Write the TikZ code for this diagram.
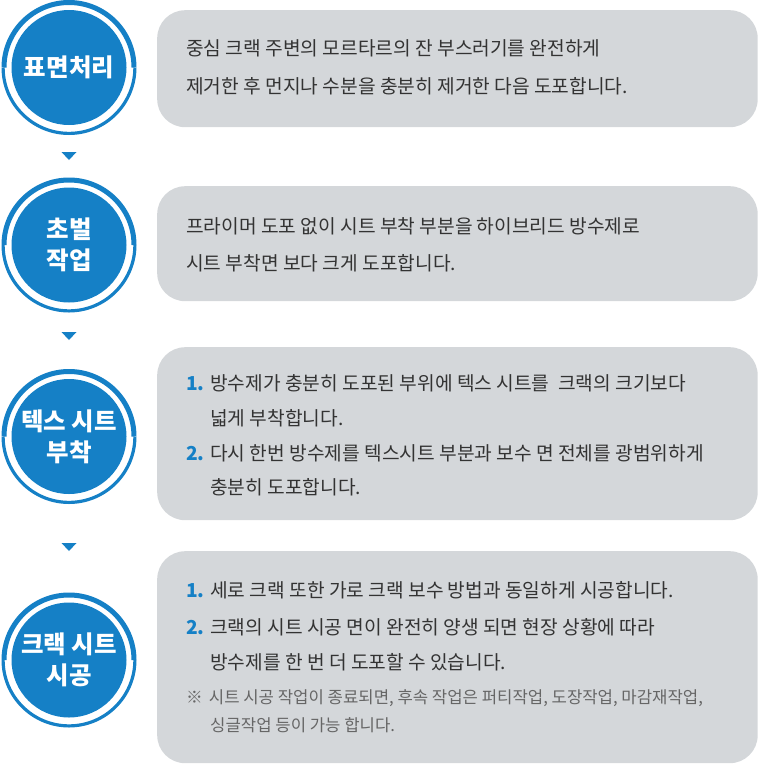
\documentclass[tikz,border=0pt]{standalone}
\usepackage{fontspec}
\setmainfont{Noto Sans CJK KR}
\definecolor{cblue}{HTML}{1580C6}
\definecolor{cgray}{HTML}{D4D7DA}
\definecolor{ctext}{HTML}{333333}
\definecolor{cnote}{HTML}{666666}
\tikzset{
  stepcirc/.style={circle, fill=cblue, minimum size=115pt, inner sep=0pt, text=white, align=center,
    font=\fontsize{24.5}{31}\selectfont\bfseries},
  ringtop/.style={draw=cblue, line width=5pt},
  ringbot/.style={draw=cblue, line width=3.2pt},
  infobox/.style={rectangle, rounded corners=28pt, fill=cgray, anchor=north west, minimum width=600.5pt, inner sep=0pt},
  body/.style={anchor=base west, inner sep=0pt, text=ctext, font=\fontsize{19.2}{22}\selectfont},
  note/.style={anchor=base west, inner sep=0pt, text=cnote, font=\fontsize{16.7}{19}\selectfont},
  num/.style={anchor=base west, inner sep=0pt, text=cblue, font=\fontsize{19.2}{22}\selectfont\bfseries},
  marker/.style={fill=cblue}
}
\begin{document}
\begin{tikzpicture}[x=1pt,y=-1pt]
\useasboundingbox (0,0) rectangle (758,764);
% circles
\foreach \n/\cy/\lbl in {c1/67.5/{표면처리}, c2/245/{초벌\\작업}, c3/436.5/{텍스 시트\\부착}, c4/660/{크랙 시트\\시공}}{
  \node[stepcirc] (\n) at (69,\cy) {\lbl};
  \draw[ringtop] (\n.center) ++(180:65) arc (180:360:65);
  \draw[ringbot] (\n.center) ++(0:65.9) arc (0:180:65.9);
}
% markers
\foreach \m/\ty in {m1/152, m2/332, m3/543}{
  \coordinate (\m) at (69,\ty);
  \fill[marker] (\m) ++(-7.5,0) -- ++(15,0) -- ++(-7.5,8) -- cycle;
}
% boxes
\node[infobox, minimum height=117pt] (b1) at (157,10) {};
\node[infobox, minimum height=115pt] (b2) at (157,186) {};
\node[infobox, minimum height=173pt] (b3) at (157,347) {};
\node[infobox, minimum height=212pt] (b4) at (157,551) {};
% box 1
\node[body] (t11) at (186,55.5) {중심 크랙 주변의 모르타르의 잔 부스러기를 완전하게};
\node[body] (t12) at (186,93.5) {제거한 후 먼지나 수분을 충분히 제거한 다음 도포합니다.};
% box 2
\node[body] (t21) at (186,233) {프라이머 도포 없이 시트 부착 부분을 하이브리드 방수제로};
\node[body] (t22) at (186,270) {시트 부착면 보다 크게 도포합니다.};
% box 3
\node[num] (n31) at (186,390) {1.};
\node[body] (t31) at (210,390) {방수제가 충분히 도포된 부위에 텍스 시트를~ 크랙의 크기보다};
\node[body] (t32) at (210,425) {넓게 부착합니다.};
\node[num] (n32) at (186,460) {2.};
\node[body] (t33) at (210,460) {다시 한번 방수제를 텍스시트 부분과 보수 면 전체를 광범위하게};
\node[body] (t34) at (210,494) {충분히 도포합니다.};
% box 4
\node[num] (n41) at (186,597) {1.};
\node[body] (t41) at (210,597) {세로 크랙 또한 가로 크랙 보수 방법과 동일하게 시공합니다.};
\node[num] (n42) at (186,634) {2.};
\node[body] (t42) at (210,634) {크랙의 시트 시공 면이 완전히 양생 되면 현장 상황에 따라};
\node[body] (t43) at (210,669) {방수제를 한 번 더 도포할 수 있습니다.};
\node[note] (t44) at (186,703) {※\hspace{6pt}시트 시공 작업이 종료되면, 후속 작업은 퍼티작업, 도장작업, 마감재작업,};
\node[note] (t45) at (210,731) {싱글작업 등이 가능 합니다.};
\end{tikzpicture}
\end{document}
